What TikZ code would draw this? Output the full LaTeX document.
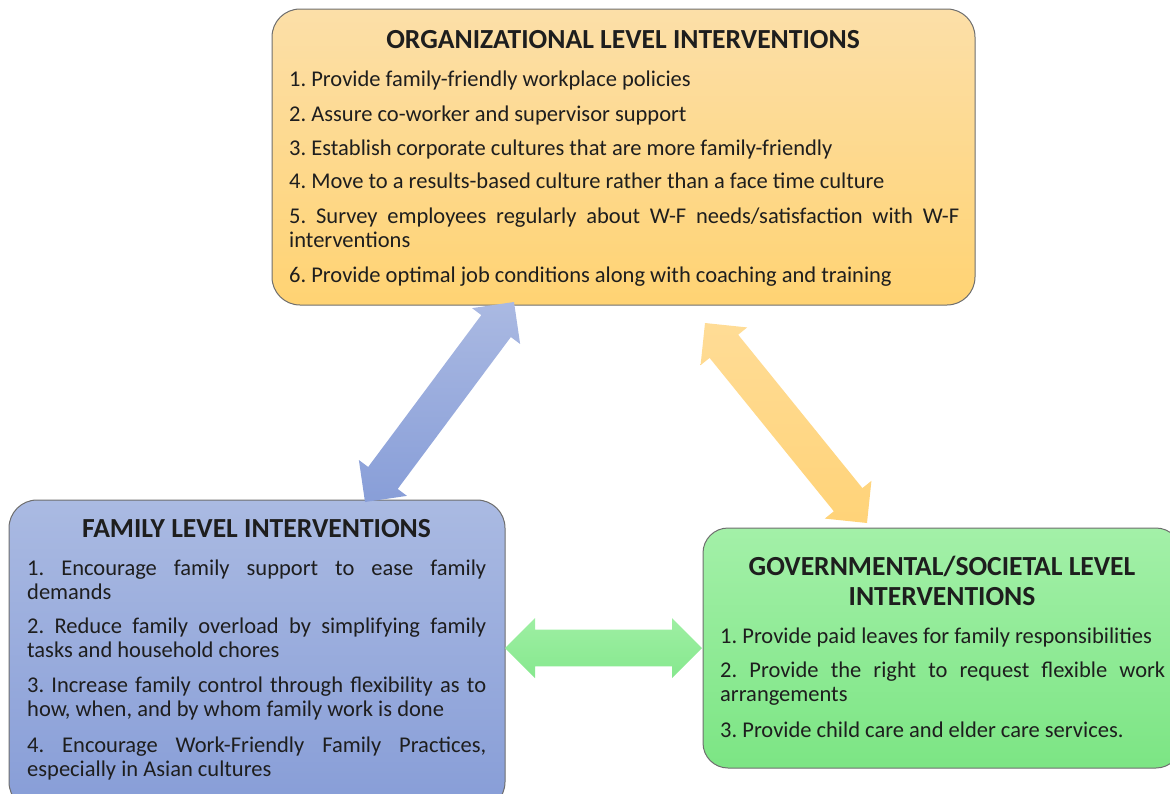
\documentclass[tikz,border=0pt]{standalone}
\usepackage{fontspec}
\setmainfont{Carlito}
\usetikzlibrary{calc}
\hyphenpenalty=10000
\exhyphenpenalty=10000
\frenchspacing
\definecolor{txt}{HTML}{1E1E1E}
\definecolor{orgtop}{RGB}{252,223,168}
\definecolor{orgbot}{RGB}{255,211,115}
\definecolor{famtop}{RGB}{170,186,226}
\definecolor{fambot}{RGB}{135,157,215}
\definecolor{govtop}{RGB}{163,240,168}
\definecolor{govbot}{RGB}{124,229,132}
\definecolor{bluetop}{RGB}{170,185,226}
\definecolor{bluebot}{RGB}{136,158,216}
\definecolor{orangetop}{RGB}{255,220,150}
\definecolor{orangebot}{RGB}{255,211,120}
\definecolor{greentop}{RGB}{158,239,163}
\definecolor{greenbot}{RGB}{134,232,142}
\definecolor{edge}{RGB}{110,110,110}
\newcommand\dblarrow[3]{%
  \shade[#1]
    (#2) -- ($($(#2)!30pt!(#3)$)!30pt!90:(#3)$)
    -- ($($(#2)!30pt!(#3)$)!18.4pt!90:(#3)$)
    -- ($($(#3)!30pt!(#2)$)!18.4pt!-90:(#2)$)
    -- ($($(#3)!30pt!(#2)$)!30pt!-90:(#2)$)
    -- (#3)
    -- ($($(#3)!30pt!(#2)$)!30pt!90:(#2)$)
    -- ($($(#3)!30pt!(#2)$)!18.4pt!90:(#2)$)
    -- ($($(#2)!30pt!(#3)$)!18.4pt!-90:(#3)$)
    -- ($($(#2)!30pt!(#3)$)!30pt!-90:(#3)$)
    -- cycle;}
\tikzset{
  box/.style={draw=edge, line width=1pt, rounded corners=28pt, inner sep=0pt},
  ttl/.style={inner sep=0pt, anchor=base, text=txt, font=\fontsize{27.6}{30}\selectfont\bfseries, align=center},
  item/.style={inner sep=0pt, anchor=base west, text=txt, align=justify,
    font=\fontsize{22.5}{24}\selectfont},
}
\begin{document}
\begin{tikzpicture}[x=1pt,y=-1pt]
\useasboundingbox (0,0) rectangle (1170,793);
% boxes
\node[box, top color=orgtop, bottom color=orgbot, minimum width=703pt, minimum height=296pt] (org) at (623.5,157) {};
\node[box, top color=famtop, bottom color=fambot, minimum width=496pt, minimum height=310pt] (fam) at (257,655) {};
\node[box, top color=govtop, bottom color=govbot, minimum width=478pt, minimum height=240pt, rounded corners=25pt] (gov) at (942,648) {};
% arrows
\coordinate (b1) at (365,502);
\coordinate (b2) at (514,302);
\coordinate (o1) at (705,323);
\coordinate (o2) at (867,523);
\coordinate (g1) at (505,648);
\coordinate (g2) at (702,648);
\dblarrow{top color=bluetop, bottom color=bluebot}{b1}{b2}
\dblarrow{top color=orangetop, bottom color=orangebot}{o1}{o2}
\dblarrow{top color=greentop, bottom color=greenbot}{g1}{g2}
% organizational
\node[ttl] (ot) at (623,48) {ORGANIZATIONAL LEVEL INTERVENTIONS};
\node[item, text width=670pt] (o1t) at (289,86) {1. Provide family-friendly workplace policies};
\node[item, text width=670pt] (o2t) at (289,121) {2. Assure co-worker and supervisor support};
\node[item, text width=670pt] (o3t) at (289,155) {3. Establish corporate cultures that are more family-friendly};
\node[item, text width=670pt] (o4t) at (289,188) {4. Move to a results-based culture rather than a face time culture};
\node[item, text width=670pt] (o5t) at (289,223) {5. Survey employees regularly about W-F needs/satisfaction with W-F interventions};
\node[item, text width=670pt] (o6t) at (289,282) {6. Provide optimal job conditions along with coaching and training};
% family
\node[ttl] (ft) at (256.5,537) {FAMILY LEVEL INTERVENTIONS};
\node[item, text width=459pt] (f1t) at (27,575) {1. Encourage family support to ease family demands};
\node[item, text width=459pt] (f2t) at (27,633) {2. Reduce family overload by simplifying family tasks and household chores};
\node[item, text width=459pt] (f3t) at (27,692) {3. Increase family control through flexibility as to how, when, and by whom family work is done};
\node[item, text width=459pt] (f4t) at (27,752) {4. Encourage Work-Friendly Family Practices, especially in Asian cultures};
% governmental
\node[ttl] (gt1) at (942,575) {GOVERNMENTAL/SOCIETAL LEVEL};
\node[ttl] (gt2) at (942,605) {INTERVENTIONS};
\node[item, text width=445pt] (g1t) at (720,643) {1. Provide paid leaves for family responsibilities};
\node[item, text width=445pt] (g2t) at (720,677) {2. Provide the right to request flexible work arrangements};
\node[item, text width=445pt] (g3t) at (720,737) {3. Provide child care and elder care services.};
\end{tikzpicture}
\end{document}
